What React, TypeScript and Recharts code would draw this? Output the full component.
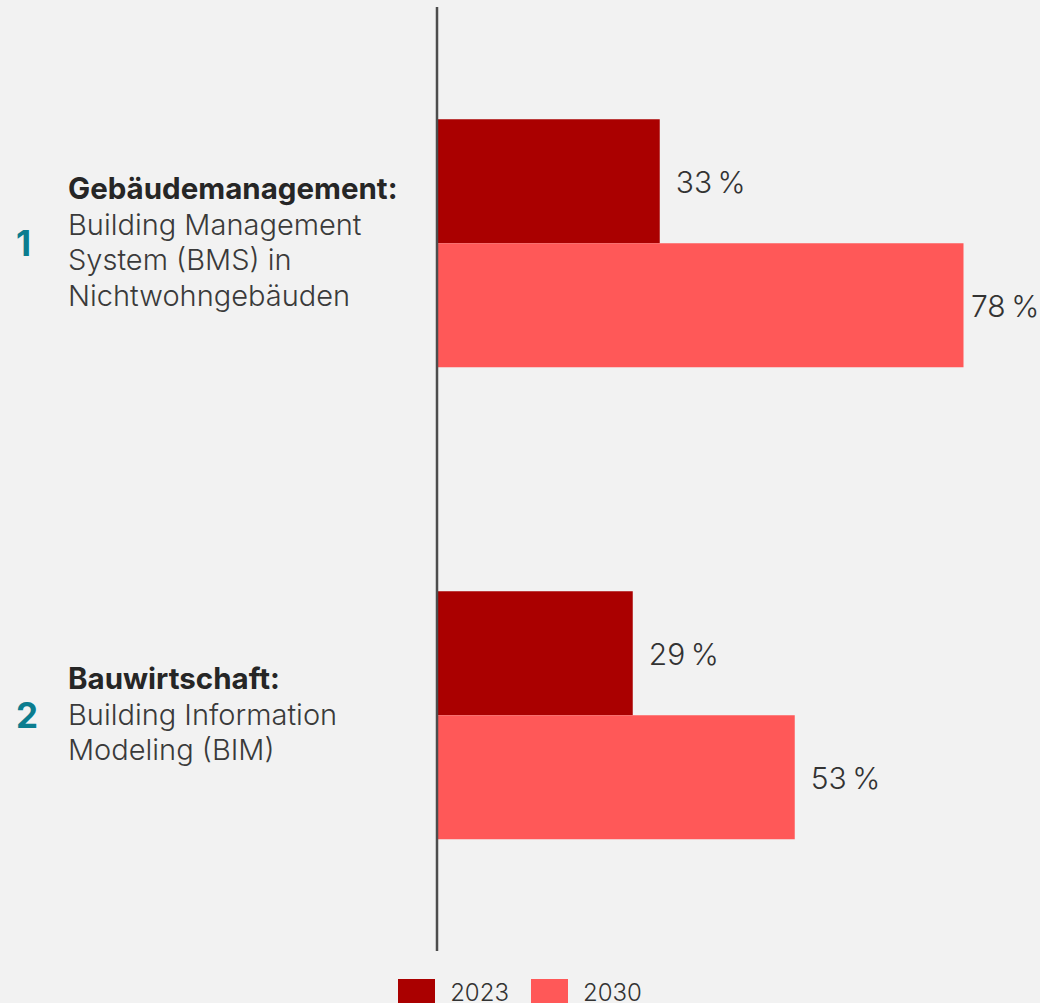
import { BarChart, Bar, XAxis, YAxis, Legend, LabelList } from 'recharts';

const categories = ['1', '2'];
const headings = ['Gebäudemanagement:', 'Bauwirtschaft:'];
const descriptions = [
  ['Building Management', 'System (BMS) in', 'Nichtwohngebäuden'],
  ['Building Information', 'Modeling (BIM)'],
];
const values2023 = [33, 29];
const values2030 = [78, 53];
const seriesNames = ['2023', '2030'];

const COLORS = ['#aa0000', '#ff5858'];
const FONT = 'Inter, "Noto Sans", sans-serif';
const W = 1040;
const H = 1003;

const data = categories.map((c, i) => ({
  key: c,
  v2023: values2023[i],
  v2030: values2030[i],
}));

// left side: big teal number + bold heading + description lines
function CategoryTick({ y, payload, index }: any) {
  const i = index ?? categories.indexOf(payload.value);
  const lines = [headings[i], ...descriptions[i]];
  const lh = 35.5;
  const first = y - ((lines.length - 1) / 2) * lh + 9.5;
  return (
    <g>
      <text x={16} y={y + 13} fill="#0b7d8f" fontSize={35} fontWeight={700} fontFamily={FONT}>
        {payload.value}
      </text>
      {lines.map((l, k) => (
        <text
          key={k}
          x={68}
          y={first + k * lh}
          fill={k === 0 ? '#262626' : '#3a3a3a'}
          fontSize={k === 0 ? 29.5 : 29}
          fontWeight={k === 0 ? 700 : 300}
          fontFamily={FONT}
        >
          {l}
        </text>
      ))}
    </g>
  );
}

// value label to the right of the bar, pulled back when it would leave the picture
function ValueLabel({ x, y, width, height, value }: any) {
  const est = 66;
  let tx = x + width + 16;
  if (tx + est > W - 3) tx = W - 3 - est;
  return (
    <text x={tx} y={y + height / 2 + 12} fill="#333" fontSize={30} fontWeight={300} fontFamily={FONT}>
      {`${value}\u202F%`}
    </text>
  );
}

function LegendRow() {
  return (
    <div style={{ display: 'flex', justifyContent: 'center', paddingTop: 28, fontFamily: FONT }}>
      {seriesNames.map((n, i) => (
        <div key={n} style={{ display: 'flex', alignItems: 'flex-start', marginLeft: i ? 22 : 0 }}>
          <div style={{ width: 37, height: 26, background: COLORS[i] }} />
          <span style={{ marginLeft: 15, fontSize: 24, lineHeight: '24px', fontWeight: 300, color: '#333', marginTop: 2 }}>
            {n}
          </span>
        </div>
      ))}
    </div>
  );
}

export default function App() {
  return (
    <div style={{ position: 'absolute', left: 0, top: 0, width: W, height: H, background: '#f2f2f2', overflow: 'hidden' }}>
      <BarChart
        width={W}
        height={H}
        data={data}
        layout="vertical"
        margin={{ top: 7, right: 63, bottom: 0, left: 0 }}
        barCategoryGap="23.8%"
        barGap={0}
      >
        <XAxis type="number" domain={[0, 80]} hide />
        <YAxis
          type="category"
          dataKey="key"
          width={437}
          axisLine={{ stroke: '#4d4d4d', strokeWidth: 2.5 }}
          tickLine={false}
          tick={(p: any) => <CategoryTick {...p} />}
        />
        <Legend
          verticalAlign="bottom"
          height={52}
          wrapperStyle={{ left: 0, width: W }}
          content={() => <LegendRow />}
        />
        <Bar dataKey="v2023" name={seriesNames[0]} fill={COLORS[0]} isAnimationActive={false}>
          <LabelList dataKey="v2023" content={(p: any) => <ValueLabel {...p} />} />
        </Bar>
        <Bar dataKey="v2030" name={seriesNames[1]} fill={COLORS[1]} isAnimationActive={false}>
          <LabelList dataKey="v2030" content={(p: any) => <ValueLabel {...p} />} />
        </Bar>
      </BarChart>
    </div>
  );
}
